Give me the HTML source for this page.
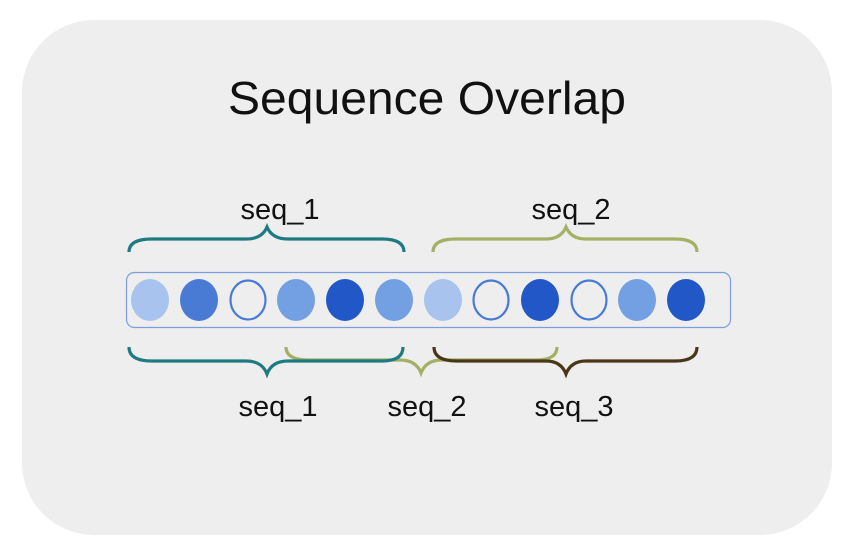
<!DOCTYPE html>
<html><head><style>
html,body{margin:0;padding:0;background:#fff;}
svg{display:block;}
text{font-family:"Liberation Sans",sans-serif;fill:#111;}
</style></head><body>
<svg width="856" height="554" viewBox="0 0 856 554" xmlns="http://www.w3.org/2000/svg">
<rect x="22" y="20" width="810" height="515" rx="72" fill="#eeeeee"/>
<text x="228" y="114" font-size="46" textLength="398" lengthAdjust="spacingAndGlyphs">Sequence Overlap</text>
<text x="280" y="219" text-anchor="middle" font-size="29">seq_1</text>
<text x="571" y="219" text-anchor="middle" font-size="29">seq_2</text>
<text x="278" y="416" text-anchor="middle" font-size="29">seq_1</text>
<text x="427" y="416" text-anchor="middle" font-size="29">seq_2</text>
<text x="574" y="416" text-anchor="middle" font-size="29">seq_3</text>
<g fill="none" stroke-width="3.2">
<path d="M129,252 Q129,239 152,239 L246,239 Q262,239 267,227 Q272,239 288,239 L382,239 Q404,239 404,252" stroke="#1f7b82"/>
<path d="M433,252 Q433,239 456,239 L546,239 Q561,239 566,227 Q571,239 586,239 L675,239 Q697,239 697,252" stroke="#a4b064"/>
<path d="M286,347 Q286,360 309,360 L400,360 Q416,360 421,373 Q426,360 442,360 L536,360 Q557,360 557,347" stroke="#a4b064"/>
<path d="M129,347 Q129,361 152,361 L246,361 Q262,361 267,374 Q272,361 288,361 L382,361 Q403,361 403,347" stroke="#1f7b82"/>
<path d="M434,347 Q434,361 457,361 L546,361 Q561,361 566,374 Q571,361 586,361 L675,361 Q697,361 697,347" stroke="#4a3718"/>
</g>
<rect x="126.5" y="272.5" width="604" height="55" rx="8" fill="#eeeeee" stroke="#7a9ee0" stroke-width="1.2"/>
<g>
<ellipse cx="150" cy="300" rx="19" ry="21" fill="#a9c3ef"/>
<ellipse cx="199" cy="300" rx="19" ry="21" fill="#4a7bd4"/>
<ellipse cx="248" cy="300" rx="17.5" ry="19.5" fill="none" stroke="#4a7bd4" stroke-width="2.2"/>
<ellipse cx="296" cy="300" rx="19" ry="21" fill="#739fe3"/>
<ellipse cx="345" cy="300" rx="19" ry="21" fill="#2157c6"/>
<ellipse cx="394" cy="300" rx="19" ry="21" fill="#739fe3"/>
<ellipse cx="443" cy="300" rx="19" ry="21" fill="#a9c3ef"/>
<ellipse cx="491" cy="300" rx="17.5" ry="19.5" fill="none" stroke="#4a7bd4" stroke-width="2.2"/>
<ellipse cx="540" cy="300" rx="19" ry="21" fill="#2157c6"/>
<ellipse cx="589" cy="300" rx="17.5" ry="19.5" fill="none" stroke="#4a7bd4" stroke-width="2.2"/>
<ellipse cx="637" cy="300" rx="19" ry="21" fill="#739fe3"/>
<ellipse cx="686" cy="300" rx="19" ry="21" fill="#2157c6"/>
</g>
</svg>
</body></html>
